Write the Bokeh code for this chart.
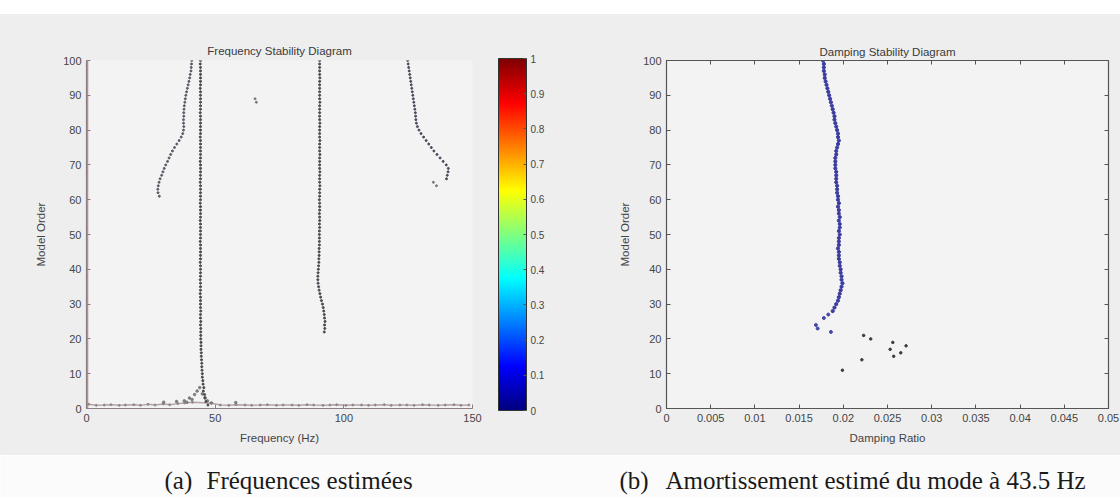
import numpy as np
from bokeh.plotting import figure
from bokeh.models import (ColorBar, LinearColorMapper, FixedTicker, PrintfTickFormatter,
                          LinearAxis, Range1d, Label, CustomJSTickFormatter, Spacer)
from bokeh.layouts import column, row
from bokeh.embed import file_html
from bokeh.resources import INLINE

# ---------------- data ----------------
freq_ticks = [0, 50, 100, 150]
order_ticks = [0, 10, 20, 30, 40, 50, 60, 70, 80, 90, 100]
damp_ticks = [0, 0.005, 0.01, 0.015, 0.02, 0.025, 0.03, 0.035, 0.04, 0.045, 0.05]
cbar_ticks = [0, 0.1, 0.2, 0.3, 0.4, 0.5, 0.6, 0.7, 0.8, 0.9, 1]

# stable mode near 44 Hz (orders 1..100)
modeA_order = list(range(1, 101))
modeA_freq = [47.2, 46.4, 46.1, 45.9, 45.4, 45.6, 45.3, 45.2, 45.0, 45.0,
              44.9, 44.8, 44.8, 44.7, 44.6, 44.6, 44.5, 44.5, 44.5, 44.4,
              44.4, 44.4, 44.4, 44.3, 44.4, 44.3, 44.3, 44.4, 44.3, 44.3,
              44.3, 44.3, 44.2, 44.3, 44.3, 44.3, 44.2, 44.3, 44.3, 44.3,
              44.3, 44.2, 44.3, 44.3, 44.3, 44.3, 44.3, 44.2, 44.3, 44.3,
              44.3, 44.3, 44.3, 44.2, 44.3, 44.3, 44.3, 44.3, 44.2, 44.3,
              44.3, 44.3, 44.3, 44.3, 44.2, 44.3, 44.3, 44.3, 44.3, 44.3,
              44.2, 44.3, 44.3, 44.3, 44.3, 44.3, 44.3, 44.2, 44.3, 44.3,
              44.3, 44.3, 44.3, 44.3, 44.2, 44.3, 44.3, 44.3, 44.3, 44.3,
              44.3, 44.2, 44.3, 44.3, 44.3, 44.3, 44.3, 44.3, 44.2, 44.3]

# mode near 90 Hz (orders 22..100)
modeB_order = list(range(22, 101))
modeB_freq = [92.4, 92.6, 92.5, 92.7, 92.5, 92.4, 92.2, 92.0, 91.7,
              91.3, 91.0, 90.7, 90.4, 90.2, 90.0, 89.9, 89.9, 90.0, 90.1,
              90.2, 90.3, 90.3, 90.4, 90.4, 90.4, 90.5, 90.5, 90.5, 90.5,
              90.5, 90.6, 90.5, 90.6, 90.6, 90.5, 90.6, 90.6, 90.6, 90.5,
              90.6, 90.6, 90.6, 90.7, 90.6, 90.6, 90.6, 90.7, 90.6, 90.6,
              90.6, 90.6, 90.7, 90.6, 90.6, 90.6, 90.7, 90.6, 90.6, 90.6,
              90.6, 90.7, 90.6, 90.6, 90.6, 90.6, 90.6, 90.7, 90.6, 90.6,
              90.6, 90.6, 90.6, 90.6, 90.7, 90.6, 90.6, 90.6, 90.6, 90.6]

# drifting mode near 30-41 Hz
modeC_order = [100, 99, 98, 97, 96, 95, 94, 93, 92, 91, 90, 89, 88, 87, 86, 85, 84, 83,
               82, 81, 80, 79, 78, 77, 76, 75, 74, 73, 72, 71, 70, 69, 68, 67, 66, 65,
               64, 63, 62, 61]
modeC_freq = [40.9, 40.8, 40.7, 40.6, 40.3, 40.1, 39.8, 39.5, 39.2, 38.9, 38.6, 38.4,
              38.2, 38.0, 37.9, 37.8, 37.8, 37.7, 37.7, 37.8, 37.7, 37.4, 36.8, 36.0,
              35.1, 34.2, 33.4, 32.7, 32.1, 31.5, 30.8, 30.2, 29.7, 29.2, 28.6, 28.2,
              27.9, 27.7, 27.8, 28.3]

# drifting mode near 125-141 Hz
modeD_order = [100, 99, 98, 97, 96, 95, 94, 93, 92, 91, 90, 89, 88, 87, 86, 85, 84, 83,
               82, 81, 80, 79, 78, 77, 76, 75, 74, 73, 72, 71, 70, 69, 68, 67, 66]
modeD_freq = [124.8, 125.0, 125.2, 125.4, 125.6, 125.8, 126.0, 126.2, 126.4, 126.6,
              126.8, 127.0, 127.2, 127.4, 127.6, 127.8, 127.9, 128.0, 128.2, 128.6,
              129.2, 130.0, 131.0, 132.0, 133.0, 134.0, 135.0, 136.2, 137.4, 138.6,
              139.8, 140.6, 140.5, 140.2, 139.9]

# isolated poles
stray_order = [64, 65, 88, 89]
stray_freq = [136.0, 134.8, 66.0, 65.5]

# low-order (spurious) poles along the bottom
low_freq = [0.8, 3.8, 6.9, 9.5, 12.7, 15.1, 18.4, 21.0, 23.9, 26.6, 29.8, 32.3, 35.5,
            38.1, 41.2, 48.7, 52.0, 55.3, 58.1, 61.6, 64.2, 67.5, 70.3, 73.8, 76.4,
            79.9, 82.5, 85.7, 88.3, 91.9, 94.6, 97.2, 100.8, 103.5, 106.9, 109.6,
            112.2, 115.7, 118.4, 121.8, 124.5, 127.3, 130.6, 133.2, 136.7, 139.4,
            142.8, 145.5, 148.6]
low_order = [1.2, 0.9, 1.0, 1.1, 0.9, 1.0, 1.1, 0.9, 1.2, 1.0, 1.3, 1.1, 1.4,
             1.6, 1.8, 1.5, 1.0, 0.9, 1.1, 1.0, 0.9, 1.0, 1.1, 0.9, 1.0,
             1.0, 0.9, 1.1, 1.0, 0.9, 1.0, 1.1, 0.9, 1.0, 1.0, 0.9,
             1.0, 1.1, 0.9, 1.0, 1.0, 0.9, 1.1, 1.0, 0.9, 1.0,
             1.1, 0.9, 1.0]
bump_freq = [30.0, 35.0, 38.0, 39.0, 40.0, 41.0, 42.0, 43.0, 44.0, 45.0, 46.0, 47.0, 48.5, 58.0]
bump_order = [1.8, 2.0, 2.2, 1.8, 3.0, 2.6, 4.0, 5.0, 6.0, 4.2, 3.1, 2.2, 1.6, 1.7]

# poles at zero frequency (along the order axis)
zero_freq = [0.4, 0.4]
zero_order = [0, 100]

# damping of the 43.5 Hz mode
damp_order = list(range(28, 101))
damp_ratio = [0.0188, 0.0190, 0.0192, 0.0194, 0.0195, 0.0196, 0.0197, 0.0198, 0.0199, 0.0198,
              0.0198, 0.0197, 0.0197, 0.0196, 0.0196, 0.0195, 0.0195, 0.0195, 0.0194, 0.0195,
              0.0195, 0.0195, 0.0196, 0.0195, 0.0196, 0.0196, 0.0195, 0.0196, 0.0195, 0.0195,
              0.0194, 0.0195, 0.0194, 0.0194, 0.0193, 0.0193, 0.0193, 0.0192, 0.0192, 0.0192,
              0.0192, 0.0191, 0.0191, 0.0191, 0.0191, 0.0192, 0.0192, 0.0193, 0.0194, 0.0195,
              0.0194, 0.0194, 0.0193, 0.0192, 0.0191, 0.0190, 0.0190, 0.0189, 0.0188, 0.0187,
              0.0186, 0.0185, 0.0184, 0.0183, 0.0182, 0.0181, 0.0180, 0.0179, 0.0179, 0.0178,
              0.0178, 0.0178, 0.0177]
damp_blue_ratio = [0.0169, 0.0171, 0.0178, 0.0183, 0.0186]
damp_blue_order = [24, 23, 26, 27, 22]
damp_black_ratio = [0.0199, 0.0223, 0.0231, 0.0221, 0.0256, 0.0253, 0.0257, 0.0265, 0.0271]
damp_black_order = [11, 21, 20, 14, 19, 17, 15, 16, 18]

# ---------------- styling helpers ----------------
SANS = "Liberation Sans"
SERIF = "Liberation Serif"
TXT = "#454545"
BG = "#eeeeee"
FRAME_BG = "#f3f3f3"

# MATLAB-like "jet" colour map for the colour bar
_x = np.linspace(0, 1, 256)
_r = np.clip(1.5 - np.abs(4 * _x - 3), 0, 1)
_g = np.clip(1.5 - np.abs(4 * _x - 2), 0, 1)
_b = np.clip(1.5 - np.abs(4 * _x - 1), 0, 1)
jet = ["#%02x%02x%02x" % (int(r * 255), int(g * 255), int(b * 255)) for r, g, b in zip(_r, _g, _b)]


def style_axis(ax, color="#707070"):
    ax.axis_line_color = color
    ax.axis_line_width = 1.2
    ax.major_tick_in = 4
    ax.major_tick_out = 0
    ax.minor_tick_line_color = None
    ax.major_tick_line_color = color
    ax.major_label_text_font = SANS
    ax.major_label_text_font_size = "11px"
    ax.major_label_text_color = TXT
    ax.axis_label_text_font = SANS
    ax.axis_label_text_font_size = "11.5px"
    ax.axis_label_text_font_style = "normal"
    ax.axis_label_text_color = TXT


def style_title(p, standoff):
    p.title.align = "center"
    p.title.text_font = SANS
    p.title.text_font_size = "11.5px"
    p.title.text_font_style = "normal"
    p.title.text_color = "#3a3a3a"
    p.title.standoff = standoff


# ---------------- left: frequency stability diagram ----------------
p1 = figure(width=560, height=441, x_range=Range1d(0, 150), y_range=Range1d(0, 100),
            output_backend="svg", toolbar_location=None,
            min_border_left=86, min_border_right=88, min_border_top=46, min_border_bottom=47,
            background_fill_color=FRAME_BG, border_fill_color=BG, outline_line_color=None,
            title="Frequency Stability Diagram")
style_title(p1, 8)
p1.grid.visible = False
p1.xaxis.ticker = FixedTicker(ticks=freq_ticks)
p1.yaxis.ticker = FixedTicker(ticks=order_ticks)
p1.xaxis.axis_label = "Frequency (Hz)"
p1.yaxis.axis_label = "Model Order"
p1.xaxis.axis_label_standoff = 7
p1.yaxis.axis_label_standoff = 13
style_axis(p1.xaxis[0], "#8a7f83")
style_axis(p1.yaxis[0], "#8a7f83")

p1.line(zero_freq, zero_order, line_color="#c48a98", line_width=1.5)
p1.line(low_freq, low_order, line_color="#b8a2a8", line_width=1.5)
p1.scatter(low_freq, low_order, size=2, color="#8c8c8c")
p1.scatter(bump_freq, bump_order, size=2.5, color="#7a7a7a")
p1.scatter(modeA_freq, modeA_order, size=2.1, color="#4a4a4a")
p1.scatter(modeB_freq, modeB_order, size=2.1, color="#4a4a52")
p1.scatter(modeC_freq, modeC_order, size=2, color="#5a5a66")
p1.scatter(modeD_freq, modeD_order, size=2, color="#48485a")
p1.scatter(stray_freq, stray_order, size=2, color="#777777")

mapper = LinearColorMapper(palette=jet, low=0, high=1)
cbar = ColorBar(color_mapper=mapper, width=28, height=352, padding=0, margin=0,
                location=(26, -2), label_standoff=4,
                ticker=FixedTicker(ticks=cbar_ticks),
                formatter=PrintfTickFormatter(format="%g"),
                major_label_text_font=SANS, major_label_text_font_size="10px",
                major_label_text_color=TXT, major_tick_line_color="#555555",
                major_tick_in=3, major_tick_out=0,
                bar_line_color="#333333", background_fill_color=None,
                border_line_color=None)
p1.add_layout(cbar, "right")

# ---------------- right: damping stability diagram ----------------
p2 = figure(width=560, height=441, x_range=Range1d(0, 0.05), y_range=Range1d(0, 100),
            output_backend="svg", toolbar_location=None,
            min_border_left=106, min_border_right=12, min_border_top=46, min_border_bottom=47,
            background_fill_color=FRAME_BG, border_fill_color=BG, outline_line_color="#555555",
            title="Damping Stability Diagram")
style_title(p2, 6)
p2.grid.visible = False
p2.xaxis.ticker = FixedTicker(ticks=damp_ticks)
p2.xaxis.formatter = PrintfTickFormatter(format="%g")
p2.yaxis.ticker = FixedTicker(ticks=order_ticks)
p2.xaxis.axis_label = "Damping Ratio"
p2.yaxis.axis_label = "Model Order"
p2.xaxis.axis_label_standoff = 7
p2.yaxis.axis_label_standoff = 9
style_axis(p2.xaxis[0], "#555555")
style_axis(p2.yaxis[0], "#555555")

top_ax = LinearAxis(ticker=FixedTicker(ticks=damp_ticks),
                    formatter=CustomJSTickFormatter(code="return ''"))
right_ax = LinearAxis(ticker=FixedTicker(ticks=order_ticks),
                      formatter=CustomJSTickFormatter(code="return ''"))
for ax in (top_ax, right_ax):
    style_axis(ax, "#555555")
    ax.major_label_standoff = 0
p2.add_layout(top_ax, "above")
p2.add_layout(right_ax, "right")

p2.scatter(damp_ratio, damp_order, size=3.2, color="#3c3ca0")
p2.scatter(damp_blue_ratio, damp_blue_order, size=3, color="#4848a8")
p2.scatter(damp_black_ratio, damp_black_order, size=2.5, color="#3a3a3a")

# ---------------- captions ----------------
cap = figure(width=1120, height=42, x_range=Range1d(0, 1120), y_range=Range1d(0, 42),
             output_backend="svg", toolbar_location=None, min_border=0,
             x_axis_location=None, y_axis_location=None,
             background_fill_color="#fbfbfb", border_fill_color="#fbfbfb",
             outline_line_color=None)
cap.grid.visible = False
for x, t in [(164, "(a)"), (206, "Fréquences estimées"),
             (619, "(b)"), (665, "Amortissement estimé du mode à 43.5 Hz")]:
    cap.add_layout(Label(x=x, y=17, text=t, text_font=SERIF, text_font_size="25px",
                         text_color="#1a1a1a", text_baseline="alphabetic"))

plots = row(p1, p2, styles={"background-color": BG})
layout = column(Spacer(width=1120, height=14), plots, cap)
open("out.html", "w").write(file_html(layout, INLINE))
